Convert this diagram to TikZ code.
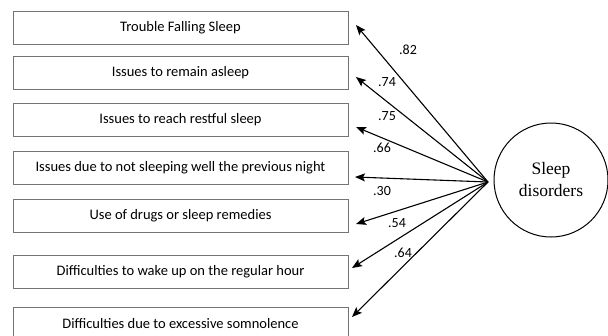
\documentclass[tikz,border=0pt]{standalone}
\usepackage{fontspec}
\setmainfont{Carlito}
\newfontfamily\serifcirc{Liberation Serif}
\usetikzlibrary{arrows.meta}
\begin{document}
\begin{tikzpicture}[x=1pt,y=-1pt,
  itembox/.style={draw=black!55, line width=0.9pt, minimum width=335pt, minimum height=33pt, inner sep=0pt, font=\fontsize{14.5}{17}\selectfont},
  latent/.style={draw, circle, line width=1pt, minimum size=114pt, inner sep=0pt, align=center, font=\serifcirc\fontsize{17.5}{22}\selectfont},
  load/.style={line width=1.1pt, -{Stealth[length=10pt,width=8pt,inset=2pt]}},
  coef/.style={font=\fontsize{14}{16}\selectfont, inner sep=0pt}]
\useasboundingbox (0,0) rectangle (608,335);
\clip (0,0) rectangle (608,335);
\fill[white] (0,0) rectangle (608,335);
\node[itembox] (b1) at (180.5,27.5) {Trouble Falling Sleep};
\node[itembox] (b2) at (180.5,72.5) {Issues to remain asleep};
\node[itembox] (b3) at (180.5,119.5) {Issues to reach restful sleep};
\node[itembox] (b4) at (180.5,167.5) {Issues due to not sleeping well the previous night};
\node[itembox] (b5) at (180.5,216) {Use of drugs or sleep remedies};
\node[itembox] (b6) at (180.5,271.5) {Difficulties to wake up on the regular hour};
\node[itembox] (b7) at (180.5,324) {Difficulties due to excessive somnolence};
\node[latent] (s) at (551,180) {Sleep\\disorders};
\coordinate (hub) at (488,182);
\coordinate (t1) at (356,25);
\coordinate (t2) at (356,77);
\coordinate (t3) at (356,127);
\coordinate (t4) at (355,177);
\coordinate (t5) at (356,224);
\coordinate (t6) at (352,268);
\coordinate (t7) at (352,317);
\foreach \i in {1,...,7} {\draw[load] (hub) -- (t\i);}
\node[coef] (l1) at (408,50) {.82};
\node[coef] (l2) at (387,82) {.74};
\node[coef] (l3) at (387,116) {.75};
\node[coef] (l4) at (382,148) {.66};
\node[coef] (l5) at (382,191) {.30};
\node[coef] (l6) at (397,223) {.54};
\node[coef] (l7) at (403,253) {.64};
\end{tikzpicture}
\end{document}
